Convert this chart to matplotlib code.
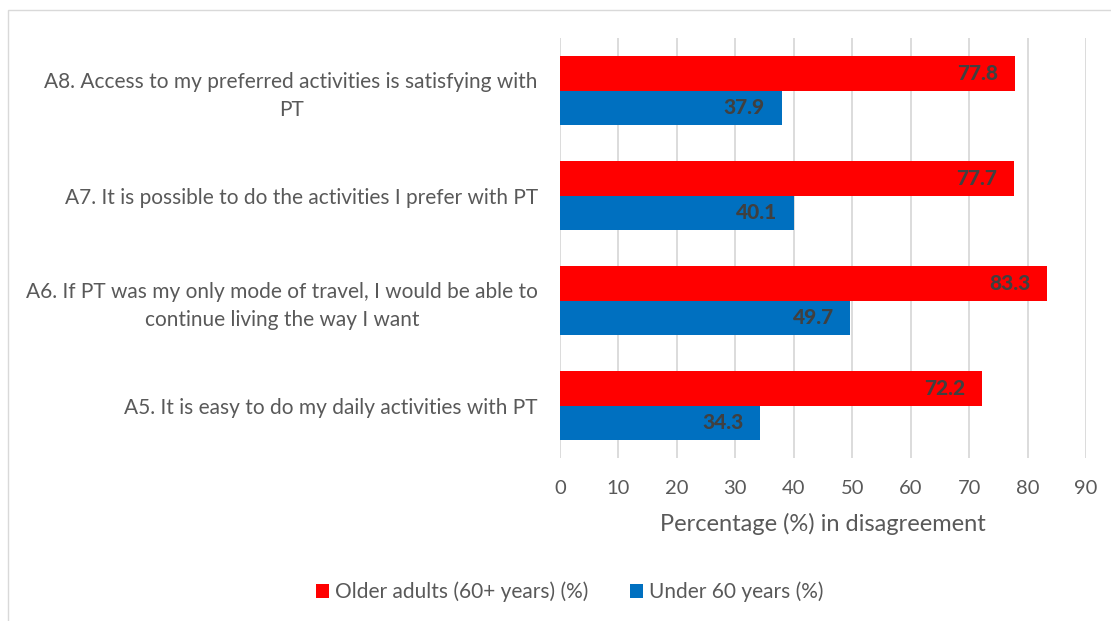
import matplotlib.pyplot as plt
import numpy as np
from matplotlib.patches import Rectangle

categories = [
    "A5. It is easy to do my daily activities with PT",
    "A6. If PT was my only mode of travel, I would be able to\ncontinue living the way I want",
    "A7. It is possible to do the activities I prefer with PT",
    "A8. Access to my preferred activities is satisfying with\nPT",
]
older = [72.2, 83.3, 77.7, 77.8]
under60 = [34.3, 49.7, 40.1, 37.9]
series_names = ["Older adults (60+ years) (%)", "Under 60 years (%)"]

RED = "#FF0000"
BLUE = "#0070C0"
TEXT = "#595959"
LABEL = "#404040"

plt.rcParams["font.family"] = ["Lato", "DejaVu Sans"]

fig = plt.figure(figsize=(11.11, 6.21), dpi=100)
ax = fig.add_axes([560 / 1111, 1 - 458 / 621, 526 / 1111, 420 / 621])

y = np.arange(len(categories))
h = 0.333
b1 = ax.barh(y + h / 2, older, height=h, color=RED, label=series_names[0], zorder=3)
b2 = ax.barh(y - h / 2, under60, height=h, color=BLUE, label=series_names[1], zorder=3)

for bars, vals in [(b1, older), (b2, under60)]:
    for bar, v in zip(bars, vals):
        ax.annotate(f"{v:.1f}", xy=(v, bar.get_y() + bar.get_height() / 2),
                    xytext=(-12, 0), textcoords="offset points",
                    ha="right", va="center", fontsize=15, fontweight="black",
                    color=LABEL, zorder=4)

ax.set_xlim(0, 90)
ax.set_ylim(-0.5, 3.5)
ax.set_xticks(range(0, 91, 10))
ax.set_yticks(y)
ax.set_yticklabels(categories, multialignment="center", linespacing=1.45)
ax.tick_params(axis="y", length=0, pad=16, labelsize=15, colors=TEXT)
ax.tick_params(axis="x", length=0, pad=16, labelsize=14.5, colors=TEXT)
ax.grid(axis="x", color="#D9D9D9", linewidth=1.3, zorder=0)
for s in ax.spines.values():
    s.set_visible(False)
ax.set_xlabel("Percentage (%) in disagreement", fontsize=17, color=TEXT, labelpad=11)

fig.legend(handles=[b1, b2], loc="center", bbox_to_anchor=(570 / 1111, 1 - 592 / 621),
           ncol=2, frameon=False, fontsize=15, labelcolor=TEXT,
           handlelength=0.6, handleheight=0.6, handletextpad=0.3, columnspacing=2.0)

fig.patches.append(Rectangle((8 / 1111, -0.01), 1.1, 1 - 10 / 621 + 0.01,
                             transform=fig.transFigure, fill=False,
                             edgecolor="#D9D9D9", linewidth=1))

fig.savefig("out.png", dpi=100)
